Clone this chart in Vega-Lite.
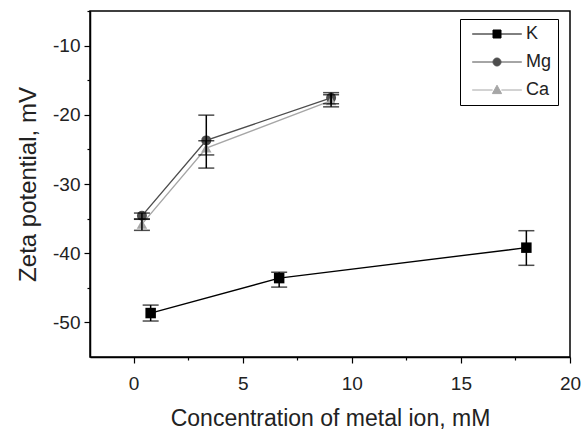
{
  "$schema": "https://vega.github.io/schema/vega-lite/v6.json",
  "autosize": {"type": "none"},
  "padding": {"left": 90, "top": 11, "right": 14, "bottom": 73},
  "width": 480,
  "height": 346,
  "background": "white",
  "config": {
    "font": "Liberation Sans",
    "view": {"stroke": "black", "strokeWidth": 1.5},
    "axis": {"grid": false, "domainColor": "black", "domainWidth": 1.5, "tickColor": "black", "tickWidth": 1.2, "labelColor": "#222", "titleColor": "#222", "labelFont": "Liberation Sans", "titleFont": "Liberation Sans", "titleFontWeight": "normal"}
  },
  "data": {"values": [
    {"ion": "K", "conc": 0.78, "zeta": -48.65, "lo": -49.8, "hi": -47.5},
    {"ion": "K", "conc": 6.67, "zeta": -43.6, "lo": -44.9, "hi": -42.75},
    {"ion": "K", "conc": 18.0, "zeta": -39.2, "lo": -41.75, "hi": -36.75},
    {"ion": "Mg", "conc": 0.38, "zeta": -34.6, "lo": -35.05, "hi": -34.2},
    {"ion": "Mg", "conc": 3.33, "zeta": -23.7, "lo": -27.7, "hi": -20.05},
    {"ion": "Mg", "conc": 9.05, "zeta": -17.55, "lo": -18.4, "hi": -16.8},
    {"ion": "Ca", "conc": 0.38, "zeta": -35.8, "lo": -36.7, "hi": -35.1},
    {"ion": "Ca", "conc": 3.33, "zeta": -24.8, "lo": -25.8, "hi": -23.75},
    {"ion": "Ca", "conc": 9.05, "zeta": -17.95, "lo": -18.85, "hi": -17.1}
  ]},
  "encoding": {
    "x": {"field": "conc", "type": "quantitative",
      "scale": {"domain": [-2, 20], "nice": false, "zero": false},
      "axis": {"title": "Concentration of metal ion, mM", "values": [0, 2.5, 5, 7.5, 10, 12.5, 15, 17.5, 20],
        "labelExpr": "datum.value % 5 === 0 ? '' + datum.value : ''",
        "tickSize": {"condition": {"test": "datum.value % 5 === 0", "value": 6}, "value": 3},
        "labelFontSize": 19, "labelPadding": 11, "titleFontSize": 23, "titlePadding": 14, "labelFlush": false}},
    "y": {"field": "zeta", "type": "quantitative",
      "scale": {"domain": [-55, -5], "nice": false, "zero": false},
      "axis": {"title": "Zeta potential, mV", "values": [-50, -45, -40, -35, -30, -25, -20, -15, -10, -5],
        "labelExpr": "datum.value % 10 === 0 ? '' + datum.value : ''",
        "tickSize": {"condition": {"test": "datum.value % 10 === 0", "value": 6}, "value": 3},
        "labelFontSize": 19, "labelPadding": 4, "titleFontSize": 24, "titlePadding": 12}}
  },
  "layer": [
    {
      "mark": {"type": "line", "strokeWidth": 1.4},
      "encoding": {
        "color": {"field": "ion", "type": "nominal",
          "scale": {"domain": ["K", "Mg", "Ca"], "range": ["#000000", "#4d4d4d", "#a6a6a6"]},
          "legend": {
            "orient": "none", "legendX": 370, "legendY": 8, "title": null,
            "strokeColor": "#000", "fillColor": "white", "padding": 6,
            "labelFontSize": 18, "labelFont": "Liberation Sans", "labelColor": "#222",
            "labelExpr": "datum.label + '\u00a0\u00a0\u00a0'",
            "symbolSize": 64, "rowPadding": 10, "labelOffset": 42,
            "encode": {"symbols": {"update": {
              "shape": {"signal": "datum.value === 'K' ? 'M-6.2,0H-1M1,0H6.2M-1,-1H1V1H-1Z' : datum.value === 'Mg' ? 'M-6.2,0H-1M1,0H6.2M1,0A1,1 0 1,1 -1,0A1,1 0 1,1 1,0Z' : 'M-6.2,0H-1.1M1.1,0H6.2M0,-1.2L1.15,0.9L-1.15,0.9Z'"},
              "fill": {"signal": "scale('color', datum.value)"},
              "stroke": {"signal": "scale('color', datum.value)"},
              "strokeWidth": {"value": 1},
              "x": {"value": 31}
            }}}
          }},
        "detail": {"field": "ion"}
      }
    },
    {
      "transform": [{"filter": "datum.ion === 'K'"}],
      "mark": {"type": "point", "filled": true, "size": 110, "opacity": 1, "shape": "square", "color": "#000000"}
    },
    {
      "transform": [{"filter": "datum.ion === 'Mg'"}],
      "mark": {"type": "point", "filled": true, "size": 100, "opacity": 1, "shape": "circle", "color": "#4d4d4d"}
    },
    {
      "transform": [{"filter": "datum.ion === 'Ca'"}],
      "mark": {"type": "point", "filled": true, "size": 110, "opacity": 1, "shape": "triangle-up", "color": "#a6a6a6"}
    },
    {
      "mark": {"type": "rule", "color": "black", "strokeWidth": 1.5},
      "encoding": {"y": {"field": "lo", "type": "quantitative"}, "y2": {"field": "hi"}}
    },
    {
      "mark": {"type": "tick", "orient": "horizontal", "color": "black", "size": 16, "thickness": 1.5},
      "encoding": {"y": {"field": "lo", "type": "quantitative"}}
    },
    {
      "mark": {"type": "tick", "orient": "horizontal", "color": "black", "size": 16, "thickness": 1.5},
      "encoding": {"y": {"field": "hi", "type": "quantitative"}}
    }
  ]
}
